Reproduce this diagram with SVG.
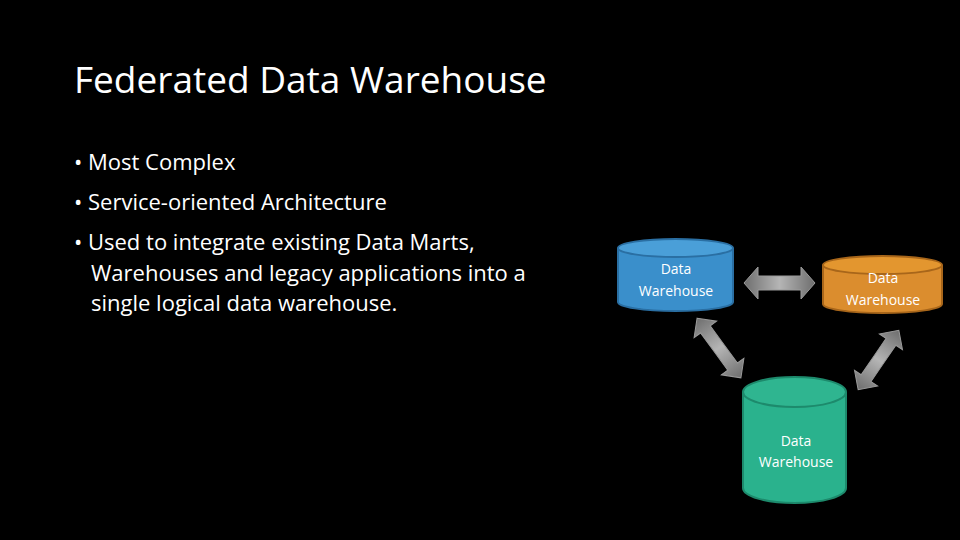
<svg xmlns="http://www.w3.org/2000/svg" width="960" height="540" viewBox="0 0 960 540">
<defs>
<linearGradient id="g" x1="0" y1="0" x2="1" y2="0"><stop offset="0" stop-color="#6e6e6e"/><stop offset="0.5" stop-color="#b5b5b5"/><stop offset="1" stop-color="#6e6e6e"/></linearGradient>
<style>
.t{font-family:"Open Sans","Liberation Sans",sans-serif;fill:#fff}
.c{font-family:"Open Sans","Liberation Sans",sans-serif;fill:#fff;font-size:14px;text-anchor:middle}
.arr{fill:url(#g);stroke:#9a9a9a;stroke-width:1}
</style>
</defs>
<rect width="960" height="540" fill="#000"/>
<text class="t" x="74" y="93" font-size="37">Federated Data Warehouse</text>
<g class="t" font-size="22">
<text x="74" y="170">• Most Complex</text>
<text x="74" y="210">• Service-oriented Architecture</text>
<text x="74" y="250">• Used to integrate existing Data Marts,</text>
<text x="91" y="281">Warehouses and legacy applications into a</text>
<text x="91" y="311">single logical data warehouse.</text>
</g>
<g id="connectors">
<polygon class="arr" transform="translate(779.5,283)" points="-35.5,0 -21.5,-16 -21.5,-7 21.5,-7 21.5,-16 35.5,0 21.5,16 21.5,7 -21.5,7 -21.5,16"/>
<polygon class="arr" transform="translate(719,348) rotate(53.7)" points="-37,0 -23,-14 -23,-6 23,-6 23,-14 37,0 23,14 23,6 -23,6 -23,14"/>
<polygon class="arr" transform="translate(878.5,360) rotate(-55.6)" points="-36,0 -22,-14 -22,-6 22,-6 22,-14 36,0 22,14 22,6 -22,6 -22,14"/>
</g>
<g id="dw1">
<path d="M618,248 V302 A57.5,9 0 0 0 733,302 V248" fill="#3a8fcb" stroke="#2a6fa3" stroke-width="2"/>
<ellipse cx="675.5" cy="248" rx="57.5" ry="9" fill="#4a9fd8" stroke="#2a6fa3" stroke-width="2"/>
<text class="c" x="676" y="274">Data</text><text class="c" x="676" y="296">Warehouse</text>
</g>
<g id="dw2">
<path d="M823,265 V304 A59.5,9 0 0 0 942,304 V265" fill="#db8d2e" stroke="#a8661a" stroke-width="2"/>
<ellipse cx="882.5" cy="265" rx="59.5" ry="9" fill="#e3962f" stroke="#a8661a" stroke-width="2"/>
<text class="c" x="883" y="283">Data</text><text class="c" x="883" y="305">Warehouse</text>
</g>
<g id="dw3">
<path d="M743,392 V488 A51.5,15 0 0 0 846,488 V392" fill="#2ab28d" stroke="#1d8a6c" stroke-width="2"/>
<ellipse cx="794.5" cy="392" rx="51.5" ry="15" fill="#2fb590" stroke="#1d8a6c" stroke-width="2"/>
<text class="c" x="796" y="446">Data</text><text class="c" x="796" y="467">Warehouse</text>
</g>
</svg>
